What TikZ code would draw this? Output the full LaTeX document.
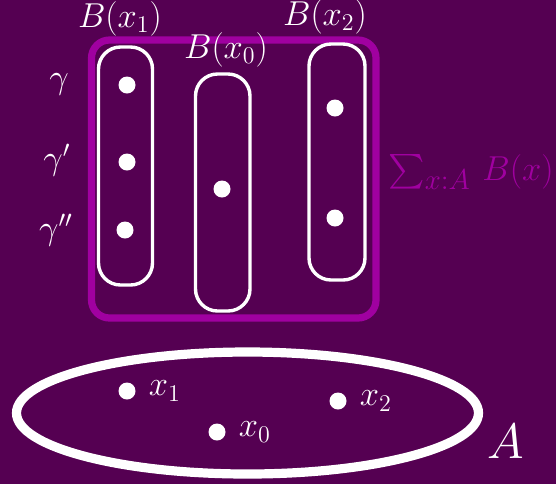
\documentclass[tikz,border=0pt]{standalone}
\usepackage{exscale}
\usepackage{tikz}
\usetikzlibrary{positioning}
\definecolor{plum}{HTML}{550052}
\definecolor{orchid}{HTML}{A000A0}

\tikzset{
  dot/.style={circle, fill=white, inner sep=0pt, minimum size=8.5pt},
  fiber/.style={draw=white, line width=1.7pt, rounded corners=11pt},
  lbl/.style={text=white, font=\fontsize{18}{21}\selectfont},
}

\begin{document}
\begin{tikzpicture}[x=0.5pt, y=-0.5pt]
        \useasboundingbox (0,0) rectangle (556,484);
        \fill[plum] (0,0) rectangle (556,484);
        % total space
        \draw[orchid, line width=3.6pt, rounded corners=9pt] (91.5,40) rectangle (376,318);
        \node[text=orchid, font=\fontsize{18}{21}\selectfont, anchor=west, inner sep=0pt] (sum) at (388,172)
          {$\sum\nolimits_{\hbox{\fontsize{14}{17}\selectfont$x{:}A$}}\, B(x)$};
        % fibres
        \draw[fiber] (98.5,47) rectangle (152.5,285);
        \draw[fiber] (195.5,74) rectangle (250,311);
        \draw[fiber] (309,44) rectangle (365,280);
        \node[lbl] (b1) at (120,19) {$B(x_1)$};
        \node[lbl] (b0) at (226,50) {$B(x_0)$};
        \node[lbl] (b2) at (325,17) {$B(x_2)$};
        \node[dot] (g1) at (127,85) {};
        \node[dot] (g2) at (127,162) {};
        \node[dot] (g3) at (125,230) {};
        \node[dot] (f0) at (222,189) {};
        \node[dot] (h1) at (335,108) {};
        \node[dot] (h2) at (335,218) {};
        \node[lbl] (gam1) at (59,84) {$\gamma$};
        \node[lbl] (gam2) at (57,160) {$\gamma'$};
        \node[lbl] (gam3) at (56,230) {$\gamma''$};
        % base
        \draw[white, line width=4.6pt] (247.5,413) ellipse [x radius=231, y radius=61];
        \node[dot] (p1) at (127,391) {};
        \node[dot] (p0) at (217,432) {};
        \node[dot] (p2) at (338,401) {};
        \node[lbl, right=3pt of p1] (l1) {$x_1$};
        \node[lbl, right=3pt of p0] (l0) {$x_0$};
        \node[lbl, right=3pt of p2] (l2) {$x_2$};
        \node[text=white, font=\fontsize{39}{45}\selectfont] (base) at (506,441) {$A$};
      \end{tikzpicture}
\end{document}
